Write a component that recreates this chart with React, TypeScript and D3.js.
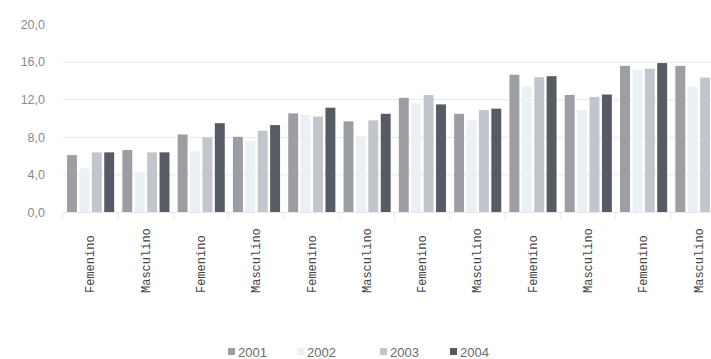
import React from "react";
import * as d3 from "d3";

// Categories along the x axis (alternating sex groups)
const categories = [
  "Femenino", "Masculino", "Femenino", "Masculino", "Femenino", "Masculino",
  "Femenino", "Masculino", "Femenino", "Masculino", "Femenino", "Masculino",
];

const years = ["2001", "2002", "2003", "2004"];

// Values per year, one per category
const values2001 = [6.1, 6.65, 8.3, 8.05, 10.55, 9.7, 12.2, 10.5, 14.65, 12.5, 15.6, 15.6];
const values2002 = [4.7, 4.3, 6.5, 7.6, 10.4, 8.1, 11.6, 9.8, 13.4, 10.9, 15.2, 13.4];
const values2003 = [6.4, 6.4, 8.0, 8.7, 10.2, 9.8, 12.5, 10.9, 14.4, 12.3, 15.3, 14.35];
const values2004 = [6.4, 6.4, 9.5, 9.3, 11.15, 10.5, 11.5, 11.05, 14.5, 12.55, 15.9, 14.4];

const yTicks = [0, 4, 8, 12, 16, 20];

const seriesValues = [values2001, values2002, values2003, values2004];
const colors = ["#9c9ea4", "#eaf0f3", "#c2c5cb", "#575b63"];

const W = 711;
const H = 359;

export default function App() {
  const x0 = 62.7;
  const groupStep = 55.3;
  const x = d3
    .scaleBand<number>()
    .domain(d3.range(categories.length))
    .range([x0, x0 + groupStep * categories.length])
    .padding(0);
  const xi = d3
    .scaleBand<string>()
    .domain(years)
    .range([3.1, 52.7])
    .paddingInner(0.2)
    .paddingOuter(0.1);
  const y = d3.scaleLinear().domain([0, 20]).range([212.5, 24.5]);

  const fmt = (v: number) => d3.format(".1f")(v).replace(".", ",");

  const legendX = [228, 297, 380, 450];

  return (
    <svg
      width={W}
      height={H}
      style={{ position: "absolute", left: 0, top: 0, background: "#fff" }}
    >
      {/* gridlines */}
      {yTicks.slice(1, -1).map((t) => (
        <line
          key={t}
          x1={x0}
          x2={W}
          y1={y(t)}
          y2={y(t)}
          stroke="#e3e8ee"
          strokeWidth={1}
        />
      ))}
      {/* y tick labels */}
      {yTicks.map((t) => (
        <text
          key={t}
          x={45}
          y={y(t)}
          dy="0.35em"
          textAnchor="end"
          fontFamily="'Liberation Sans', Arial, sans-serif"
          fontSize={12.5}
          fill="#8a8a8a"
        >
          {fmt(t)}
        </text>
      ))}
      {/* bars */}
      {categories.map((c, i) => (
        <g key={i} transform={`translate(${x(i)},0)`}>
          {years.map((yr, k) => {
            const v = seriesValues[k][i];
            return (
              <rect
                key={yr}
                x={xi(yr)}
                y={y(v)}
                width={xi.bandwidth()}
                height={y(0) - y(v)}
                fill={colors[k]}
              />
            );
          })}
        </g>
      ))}
      {/* x axis baseline and category separators */}
      <line x1={x0} x2={W} y1={y(0)} y2={y(0)} stroke="#e6e9ed" />
      {d3.range(categories.length + 1).map((i) => (
        <line
          key={i}
          x1={x0 + i * groupStep}
          x2={x0 + i * groupStep}
          y1={y(0)}
          y2={y(0) + 7}
          stroke="#e6e9ed"
        />
      ))}
      {/* category labels */}
      {categories.map((c, i) => (
        <text
          key={i}
          transform={`translate(${(x(i) as number) + groupStep / 2 + 4},293) rotate(-90)`}
          textAnchor="start"
          fontFamily="'Liberation Mono', 'Courier New', monospace"
          fontSize={12}
          fill="#444"
        >
          {c}
        </text>
      ))}
      {/* legend */}
      {years.map((yr, k) => (
        <g key={yr} transform={`translate(${legendX[k]},352)`}>
          <rect x={0} y={-4} width={7} height={7} fill={colors[k]} />
          <text
            x={10}
            y={0}
            dy="0.35em"
            fontFamily="'Liberation Sans', Arial, sans-serif"
            fontSize={13}
            fill="#6a6a6a"
          >
            {yr}
          </text>
        </g>
      ))}
    </svg>
  );
}
